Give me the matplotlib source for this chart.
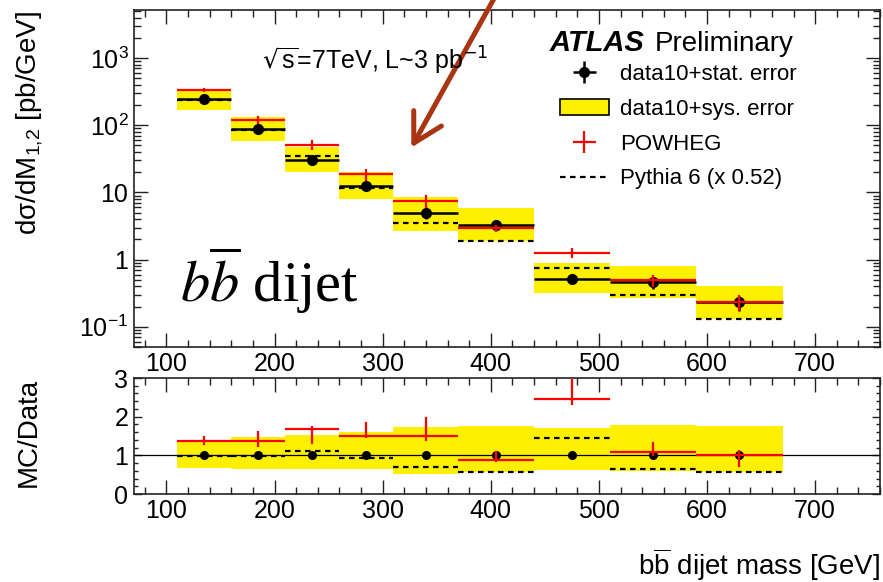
import numpy as np
import matplotlib
matplotlib.use('Agg')
import matplotlib.pyplot as plt
from matplotlib.ticker import LogLocator, NullFormatter, FixedLocator, MultipleLocator
from matplotlib.patches import Patch, FancyArrowPatch
from matplotlib.lines import Line2D

plt.rcParams['font.family'] = ['Liberation Sans', 'DejaVu Sans']
plt.rcParams['mathtext.fontset'] = 'custom'
plt.rcParams['mathtext.rm'] = 'Liberation Sans'
plt.rcParams['mathtext.it'] = 'Liberation Sans:italic'
plt.rcParams['mathtext.bf'] = 'Liberation Sans:bold'

# bin edges [GeV]
edges = np.array([110, 160, 210, 260, 310, 370, 440, 510, 590, 670])
# measured cross section [pb/GeV] and relative stat. error
data = np.array([244, 89, 30.8, 12.4, 4.98, 3.33, 0.515, 0.458, 0.231])
stat_rel = np.array([0.04, 0.05, 0.06, 0.08, 0.2, 0.08, 0.08, 0.2, 0.25])
# systematic band (as ratio to data)
sys_lo = np.array([0.68, 0.65, 0.65, 0.65, 0.53, 0.56, 0.62, 0.59, 0.57])
sys_hi = np.array([1.34, 1.47, 1.53, 1.60, 1.72, 1.75, 1.71, 1.78, 1.77])
# POWHEG / data
pow_ratio = np.array([1.38, 1.36, 1.67, 1.50, 1.51, 0.89, 2.45, 1.08, 1.02])
pow_ratio_lo = np.array([1.28, 1.22, 1.30, 1.44, 1.36, 0.82, 2.31, 0.98, 0.71])
pow_ratio_hi = np.array([1.51, 1.62, 1.75, 1.85, 1.98, 1.10, 3.20, 1.34, 1.15])
pow_err_rel = np.array([0.07, 0.15, 0.18, 0.2, 0.22, 0.12, 0.17, 0.2, 0.28])
# Pythia 6 (x 0.52) / data
pythia_ratio = np.array([0.98, 0.97, 1.12, 0.93, 0.71, 0.56, 1.44, 0.64, 0.57])

centers = (edges[:-1] + edges[1:]) / 2
half = np.diff(edges) / 2
yellow = '#FFF000'
frame_c = '#222222'

fig = plt.figure(figsize=(8.83, 5.82), dpi=100)
W, H = 883, 582
ax1 = fig.add_axes([134 / W, 1 - 347 / H, 746 / W, 337 / H])
ax2 = fig.add_axes([134 / W, 1 - 494 / H, 746 / W, 116 / H])

# ---- upper panel
ax1.bar(centers, data * (sys_hi - sys_lo), bottom=data * sys_lo, width=np.diff(edges),
        color=yellow, linewidth=0, zorder=1)
ax1.hlines(data * pythia_ratio, edges[:-1], edges[1:], colors='k',
           linestyles=(0, (2.5, 2)), lw=1.6, zorder=2)
eb_data = ax1.errorbar(centers, data, xerr=half, yerr=data * stat_rel, fmt='o', color='k',
                       ms=7, lw=1.8, capsize=0, zorder=3)
eb_pow = ax1.errorbar(centers, data * pow_ratio, xerr=half, yerr=data * pow_ratio * pow_err_rel,
                      fmt='none', ecolor='red', lw=1.6, capsize=0, zorder=4)

ax1.set_yscale('log')
ax1.set_xlim(70, 760)
ax1.set_ylim(0.05, 5200)
ax1.yaxis.set_major_locator(FixedLocator([0.1, 1, 10, 100, 1000]))
ax1.set_yticklabels([r'$\mathregular{10^{-1}}$', '1', '10', r'$\mathregular{10^{2}}$',
                     r'$\mathregular{10^{3}}$'])
ax1.yaxis.set_minor_locator(LogLocator(base=10, subs=np.arange(2, 10), numticks=20))
ax1.yaxis.set_minor_formatter(NullFormatter())

# ---- ratio panel
ax2.bar(centers, sys_hi - sys_lo, bottom=sys_lo, width=np.diff(edges),
        color=yellow, linewidth=0, zorder=1)
ax2.axhline(1, color='k', lw=0.9, zorder=2)
ax2.hlines(pythia_ratio, edges[:-1], edges[1:], colors='k',
           linestyles=(0, (2.5, 2)), lw=1.6, zorder=2)
ax2.plot(centers, np.ones_like(centers), 'o', color='k', ms=5.5, zorder=3)
ax2.errorbar(centers, pow_ratio, xerr=half,
             yerr=[pow_ratio - pow_ratio_lo, pow_ratio_hi - pow_ratio],
             fmt='none', ecolor='red', lw=1.6, capsize=0, zorder=4)
ax2.set_xlim(70, 760)
ax2.set_ylim(0, 3)
ax2.set_yticks([0, 1, 2, 3])
ax2.yaxis.set_minor_locator(MultipleLocator(0.2))

for ax in (ax1, ax2):
    ax.xaxis.set_major_locator(MultipleLocator(100))
    ax.xaxis.set_minor_locator(MultipleLocator(20))
    ax.tick_params(which='both', direction='in', top=True, right=True, labelsize=18,
                   color=frame_c, width=1.0)
    ax.tick_params(axis='x', which='major', length=10, pad=3.5)
    ax.tick_params(axis='x', which='minor', length=5)
    for s in ax.spines.values():
        s.set_linewidth(1.2)
        s.set_color(frame_c)
ax1.tick_params(axis='y', which='major', length=10, pad=4)
ax1.tick_params(axis='y', which='minor', length=5)
ax2.tick_params(axis='y', which='major', length=6, pad=4)
ax2.tick_params(axis='y', which='minor', length=3)

# ---- labels
fig.text(30 / W, 1 - 123 / H, 'dσ/dM$_{\\mathregular{1{,}2}}$ [pb/GeV]', rotation=90,
         ha='center', va='center', fontsize=20)
fig.text(29 / W, 1 - 432 / H, 'MC/Data', rotation=90, ha='center', va='center', fontsize=20)
fig.text(880 / W, 1 - 565 / H, r'$\mathregular{b\overline{b}}$ dijet mass [GeV]',
         ha='right', va='center', fontsize=20)

fig.text(262 / W, 1 - 70 / H, r'$\sqrt{\mathregular{s}}$=7TeV, L~3 pb$^{-1}$', ha='left',
         va='baseline', fontsize=18, math_fontfamily='dejavusans')
fig.text(550 / W, 1 - 51 / H, 'ATLAS', ha='left', va='baseline', fontsize=21,
         fontweight='bold', style='italic')
fig.text(655 / W, 1 - 51 / H, 'Preliminary', ha='left', va='baseline', fontsize=20)
fig.text(180 / W, 1 - 302 / H, r'$b\overline{b}$ dijet', ha='left', va='baseline',
         fontsize=42, family='Liberation Serif', math_fontfamily='stix')

handles = [eb_data, Patch(facecolor=yellow, edgecolor='k', linewidth=1.2), eb_pow,
           Line2D([], [], color='k', lw=1.6, linestyle=(0, (2.5, 2)))]
labels = ['data10+stat. error', 'data10+sys. error', 'POWHEG', 'Pythia 6 (x 0.52)']
ax1.legend(handles, labels, loc='upper left', bbox_to_anchor=(560 / W, 1 - 64 / H),
           bbox_transform=fig.transFigure, frameon=False, borderpad=0, fontsize=16,
           handlelength=2.2, handletextpad=0.5, labelspacing=0.62, borderaxespad=0)

# annotation arrow
arrow = FancyArrowPatch((496 / W, 1 + 5 / H), (410 / W, 1 - 150 / H),
                        transform=fig.transFigure, arrowstyle='->,head_length=1.7,head_width=0.95',
                        mutation_scale=12, color='#A93512', lw=3.6)
fig.add_artist(arrow)

fig.savefig('out.png', dpi=100)
